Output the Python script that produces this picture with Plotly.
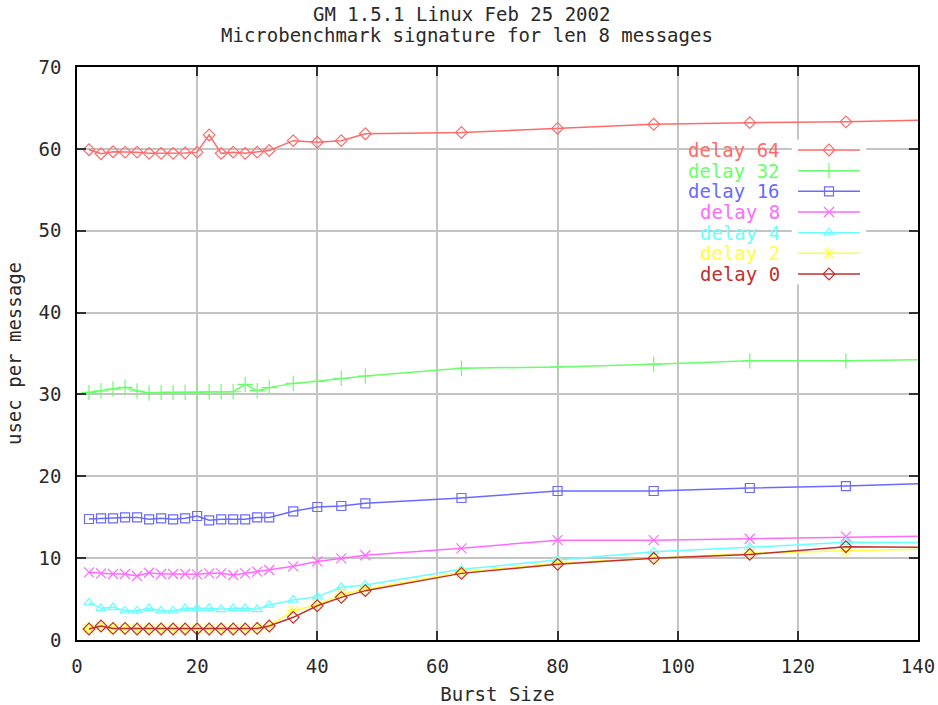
import plotly.graph_objects as go

burst = [2, 4, 6, 8, 10, 12, 14, 16, 18, 20, 22, 24, 26, 28, 30, 32, 36, 40, 44, 48, 64, 80, 96, 112, 128, 144]
d64 = [59.9, 59.4, 59.65, 59.6, 59.6, 59.45, 59.45, 59.45, 59.5, 59.6, 61.7, 59.45, 59.6, 59.45, 59.6, 59.8,
       61.0, 60.8, 61.0, 61.85, 62.0, 62.5, 63.0, 63.2, 63.3, 63.55]
d32 = [30.25, 30.45, 30.66, 30.87, 30.42, 30.17, 30.25, 30.25, 30.25, 30.25, 30.33, 30.33, 30.33, 31.23, 30.46, 30.83,
       31.35, 31.6, 31.97, 32.25, 33.2, 33.35, 33.7, 34.1, 34.1, 34.3]
d16 = [14.78, 14.86, 14.86, 14.98, 14.98, 14.74, 14.86, 14.74, 14.86, 15.15, 14.62, 14.74, 14.74, 14.74, 14.98, 14.98,
       15.72, 16.25, 16.37, 16.7, 17.35, 18.2, 18.2, 18.57, 18.8, 19.2]
d8 = [8.27, 8.14, 8.06, 8.06, 7.82, 8.22, 8.06, 8.06, 8.06, 8.02, 8.14, 8.14, 7.94, 8.14, 8.35, 8.55,
      9.0, 9.6, 9.98, 10.35, 11.2, 12.2, 12.2, 12.37, 12.62, 12.72]
d4 = [4.56, 3.87, 3.99, 3.58, 3.58, 3.87, 3.58, 3.58, 3.87, 3.87, 3.87, 3.75, 3.87, 3.87, 3.75, 4.28,
      4.89, 5.3, 6.44, 6.72, 8.63, 9.77, 10.79, 11.32, 11.95, 11.9]
d2 = [1.4, 1.75, 1.45, 1.45, 1.35, 1.35, 1.35, 1.35, 1.35, 1.35, 1.35, 1.35, 1.35, 1.35, 1.45, 1.75,
      3.58, 4.3, 5.6, 6.2, 8.3, 9.4, 10.0, 10.6, 10.9, 11.15]
d0 = [1.34, 1.71, 1.42, 1.42, 1.34, 1.34, 1.34, 1.34, 1.34, 1.34, 1.34, 1.34, 1.34, 1.34, 1.42, 1.71,
      2.77, 4.19, 5.21, 6.03, 8.14, 9.24, 9.98, 10.46, 11.4, 11.3]

names = ["delay 64", "delay 32", "delay 16", "delay 8", "delay 4", "delay 2", "delay 0"]
series = [d64, d32, d16, d8, d4, d2, d0]
colors = ["#ff6a6a", "#6aff6a", "#6a6aff", "#ff6aff", "#6affff", "#ffff40", "#c03030"]
symbols = ["diamond-open", "cross-thin-open", "square-open", "x-thin-open",
           "triangle-up-open", "asterisk-open", "diamond-open"]
sizes = [9, 11, 9, 10, 9, 11, 9]

title1 = "GM 1.5.1 Linux Feb 25 2002"
title2 = "Microbenchmark signature for len 8 messages"
xlabel = "Burst Size"
ylabel = "usec per message"

FONT = "DejaVu Sans Mono"
FS = 19
TXT = "#2a2a2a"

W, H = 938, 705
L, R, T, B = 77, 20, 67, 65
PW, PH = W - L - R, H - T - B


def px(x):
    return (x - L) / PW


def py(y):
    return (H - B - y) / PH


fig = go.Figure()
for name, ys, c, s, sz in zip(names, series, colors, symbols, sizes):
    fig.add_trace(go.Scatter(
        x=burst, y=ys, mode="lines+markers", name=name,
        line=dict(color=c, width=1.5),
        marker=dict(symbol=s, size=sz, color=c, line=dict(color=c, width=1.2)),
        showlegend=False, xaxis="x", yaxis="y"))

# gnuplot-style key: text on the left, sample line + symbol on the right
n = len(names)
row_gap = (274 - 150) / (n - 1)
for i, (name, c, s, sz) in enumerate(zip(names, colors, symbols, sizes)):
    row = n - 1 - i
    fig.add_trace(go.Scatter(x=[0, 1], y=[row, row], mode="lines", line=dict(color=c, width=1.5),
                             showlegend=False, hoverinfo="skip", xaxis="x2", yaxis="y2", cliponaxis=False))
    fig.add_trace(go.Scatter(x=[0.5], y=[row], mode="markers",
                             marker=dict(symbol=s, size=sz, color=c, line=dict(color=c, width=1.2)),
                             showlegend=False, hoverinfo="skip", xaxis="x2", yaxis="y2", cliponaxis=False))
    fig.add_annotation(x=px(782), y=py(150 + row_gap * i), xref="paper", yref="paper", text=name,
                       showarrow=False, xanchor="right", yanchor="middle",
                       font=dict(family=FONT, size=FS, color=c))

fig.add_annotation(text=title1, xref="paper", yref="paper", x=px(461), y=py(14),
                   showarrow=False, xanchor="center", yanchor="middle",
                   font=dict(family=FONT, size=FS, color=TXT))
fig.add_annotation(text=title2, xref="paper", yref="paper", x=px(467), y=py(35),
                   showarrow=False, xanchor="center", yanchor="middle",
                   font=dict(family=FONT, size=FS, color=TXT))

axis_common = dict(showline=True, linecolor="#000", linewidth=1.5, mirror="ticks",
                   ticks="inside", ticklen=9, tickwidth=1.5, tickcolor="#333",
                   showgrid=True, gridcolor="#c4c4c4", gridwidth=2, zeroline=False,
                   automargin=False,
                   tickfont=dict(family=FONT, size=FS, color=TXT))

fig.update_layout(
    width=W, height=H,
    margin=dict(l=L, r=R, t=T, b=B, autoexpand=False),
    plot_bgcolor="white", paper_bgcolor="white",
    font=dict(family=FONT, size=FS, color=TXT),
    xaxis=dict(range=[0, 140], dtick=20, domain=[0, 1], anchor="y",
               title=dict(text=xlabel, font=dict(family=FONT, size=FS, color=TXT), standoff=13),
               ticklabelstandoff=8, **axis_common),
    yaxis=dict(range=[0, 70], dtick=10, domain=[0, 1], anchor="x",
               title=dict(text=ylabel, font=dict(family=FONT, size=FS, color=TXT), standoff=12),
               ticklabelstandoff=10, **axis_common),
    xaxis2=dict(domain=[px(798 - 6.2), px(860 + 6.2)], range=[-0.1, 1.1], anchor="y2",
                visible=False, fixedrange=True),
    yaxis2=dict(domain=[py(274 + row_gap / 2), py(150 - row_gap / 2)], range=[-0.5, n - 0.5], anchor="x2",
                visible=False, fixedrange=True),
)

fig.write_html("out.html")
